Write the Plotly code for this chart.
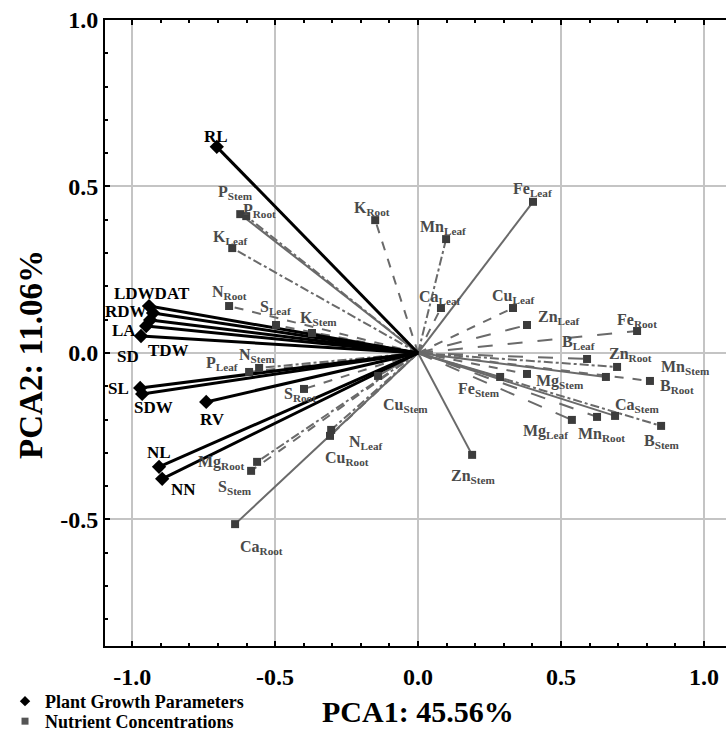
import plotly.graph_objects as go

# ---------------- data ----------------
pgp_names = ["RL", "LDWDAT", "RDW", "TDW", "LA", "SD", "SL", "SDW", "RV", "NL", "NN"]
pgp_x = [-0.704, -0.941, -0.927, -0.937, -0.951, -0.969, -0.972, -0.965, -0.741, -0.906, -0.895]
pgp_y = [0.619, 0.141, 0.120, 0.099, 0.081, 0.051, -0.105, -0.123, -0.147, -0.342, -0.378]

nut_element = ["P", "P", "K", "N", "S", "K", "P", "N", "S", "Mg", "S", "Ca",
               "N", "Cu", "Cu", "Zn", "Fe", "K", "Mn", "Ca", "Fe", "Cu", "Zn",
               "Fe", "B", "Zn", "Mn", "B", "Mg", "Ca", "Mn", "Mg", "B"]
nut_tissue = ["Stem", "Root", "Leaf", "Root", "Leaf", "Stem", "Leaf", "Stem", "Root", "Root", "Stem", "Root",
              "Leaf", "Root", "Stem", "Stem", "Stem", "Root", "Leaf", "Leaf", "Leaf", "Leaf", "Leaf",
              "Root", "Leaf", "Root", "Stem", "Root", "Stem", "Stem", "Root", "Leaf", "Stem"]
nut_x = [-0.622, -0.601, -0.650, -0.661, -0.497, -0.371, -0.591, -0.556, -0.399, -0.563, -0.584, -0.640,
         -0.304, -0.308, -0.140, 0.189, 0.287, -0.150, 0.098, 0.080, 0.402, 0.332, 0.381,
         0.766, 0.591, 0.696, 0.657, 0.811, 0.381, 0.689, 0.626, 0.538, 0.850]
nut_y = [0.417, 0.411, 0.315, 0.141, 0.084, 0.060, -0.057, -0.045, -0.108, -0.327, -0.354, -0.514,
         -0.231, -0.249, -0.069, -0.306, -0.072, 0.399, 0.342, 0.135, 0.454, 0.135, 0.084,
         0.066, -0.018, -0.042, -0.072, -0.084, -0.063, -0.189, -0.192, -0.201, -0.219]

x_tick_vals = [-1.0, -0.5, 0.0, 0.5, 1.0]
x_tick_text = ["-1.0", "-0.5", "0.0", "0.5", "1.0"]
y_tick_vals = [-0.5, 0.0, 0.5, 1.0]
y_tick_text = ["-0.5", "0.0", "0.5", "1.0"]

# ---------------- styles / label offsets (pixels) ----------------
nut_dash = ["solid", "dashdot", "dashdot", "dash", "dash", "longdash", "dash", "dashdot", "dash", "dashdot", "dash", "solid",
            "dashdot", "dash", "solid", "solid", "solid", "dash", "dashdot", "dash", "solid", "dash", "longdash",
            "longdash", "longdash", "dashdot", "solid", "dash", "dash", "solid", "longdash", "longdash", "dashdot"]
nut_shift = [(-5, 22), (13, 6), (-2, 11), (0, 14), (0, 18), (6, 15), (-27, 8), (-2, 12), (-4, -6), (-36, -1), (-16, -17), (26, -23),
             (35, -13), (17, -23), (27, -30), (1, -22), (-21, -13), (-3, 12), (-3, 12), (-1, 11), (-1, 12), (0, 12), (32, 8),
             (0, 11), (-9, 16), (13, 12), (80, 9), (27, -6), (33, -8), (22, 10), (4, -18), (-26, -12), (1, -16)]
pgp_shift = [(-1, 10), (3, 13), (-27, 2), (18, -30), (-22, -4), (-13, -20), (-22, -1), (11, -14), (6, -18), (0, 14), (21, -11)]

SERIF = "Liberation Serif"
NUT_LINE = "#6a6a6a"
NUT_MARK = "#3c3c3c"

fig = go.Figure()

# nutrient vectors
for i in range(len(nut_x)):
    fig.add_trace(go.Scatter(x=[0, nut_x[i]], y=[0, nut_y[i]], mode="lines",
                             line=dict(color=NUT_LINE, width=2, dash=nut_dash[i]),
                             showlegend=False, hoverinfo="skip"))
# plant growth vectors
for i in range(len(pgp_x)):
    fig.add_trace(go.Scatter(x=[0, pgp_x[i]], y=[0, pgp_y[i]], mode="lines",
                             line=dict(color="black", width=3),
                             showlegend=False, hoverinfo="skip"))

fig.add_trace(go.Scatter(x=nut_x, y=nut_y, mode="markers",
                         marker=dict(symbol="square", size=8, color=NUT_MARK),
                         showlegend=False, hoverinfo="skip"))
fig.add_trace(go.Scatter(x=pgp_x, y=pgp_y, mode="markers",
                         marker=dict(symbol="diamond", size=11, color="black"),
                         showlegend=False, hoverinfo="skip"))

# legend entries
fig.add_trace(go.Scatter(x=[None], y=[None], mode="markers", name="Plant Growth Parameters",
                         marker=dict(symbol="diamond", size=8, color="black"), legend="legend"))
fig.add_trace(go.Scatter(x=[None], y=[None], mode="markers", name="Nutrient Concentrations",
                         marker=dict(symbol="square", size=7, color="#555555"), legend="legend2"))

annotations = []
for i in range(len(nut_x)):
    annotations.append(dict(x=nut_x[i], y=nut_y[i], xref="x", yref="y", showarrow=False,
                            text=f"{nut_element[i]}<sub>{nut_tissue[i]}</sub>",
                            xshift=nut_shift[i][0], yshift=nut_shift[i][1],
                            font=dict(family=SERIF, size=16, color="#4a4a4a", weight="bold")))
for i in range(len(pgp_x)):
    annotations.append(dict(x=pgp_x[i], y=pgp_y[i], xref="x", yref="y", showarrow=False,
                            text=pgp_names[i],
                            xshift=pgp_shift[i][0], yshift=pgp_shift[i][1],
                            font=dict(family=SERIF, size=17, color="black", weight="bold")))

annotations.append(dict(x=0.504, y=-0.105, xref="paper", yref="paper", showarrow=False,
                        text="PCA1: 45.56%", xanchor="center", yanchor="middle",
                        font=dict(family=SERIF, size=30, color="black", weight="bold")))
annotations.append(dict(x=-0.118, y=0.466, xref="paper", yref="paper", showarrow=False,
                        text="PCA2: 11.06%", textangle=-90, xanchor="center", yanchor="middle",
                        font=dict(family=SERIF, size=33, color="black", weight="bold")))

axis_common = dict(showgrid=True, gridcolor="#c4c4c4", gridwidth=2, zeroline=False,
                   showline=True, linecolor="black", linewidth=2,
                   ticks="inside", ticklen=5, tickwidth=2, tickcolor="black",
                   tickfont=dict(family=SERIF, size=24, color="black", weight="bold"),
                   minor=dict(dtick=0.1, tick0=0, ticks="inside", ticklen=3, tickwidth=1.5,
                              tickcolor="black", showgrid=False))

legend_common = dict(xanchor="left", yanchor="top",
                     font=dict(family=SERIF, size=18, color="black", weight="bold"),
                     bgcolor="rgba(0,0,0,0)", tracegroupgap=0, itemwidth=30)

fig.update_layout(
    width=726, height=729,
    margin=dict(l=105, r=0, t=20, b=83, autoexpand=False),
    paper_bgcolor="white", plot_bgcolor="white",
    xaxis=dict(range=[-1.095, 1.077], tickvals=x_tick_vals, ticktext=x_tick_text,
               mirror="allticks", ticklabelstandoff=8, automargin=False, **axis_common),
    yaxis=dict(range=[-0.88, 1.0], tickvals=y_tick_vals, ticktext=y_tick_text,
               ticklabelstandoff=0, automargin=False, **axis_common),
    legend=dict(x=-0.161, y=-0.059, **legend_common),
    legend2=dict(x=-0.161, y=-0.091, **legend_common),
    annotations=annotations,
    hovermode=False,
)

fig.write_html("out.html", config={"displayModeBar": False},
               post_script="document.body.style.margin='0px';document.body.style.overflow='hidden';")
